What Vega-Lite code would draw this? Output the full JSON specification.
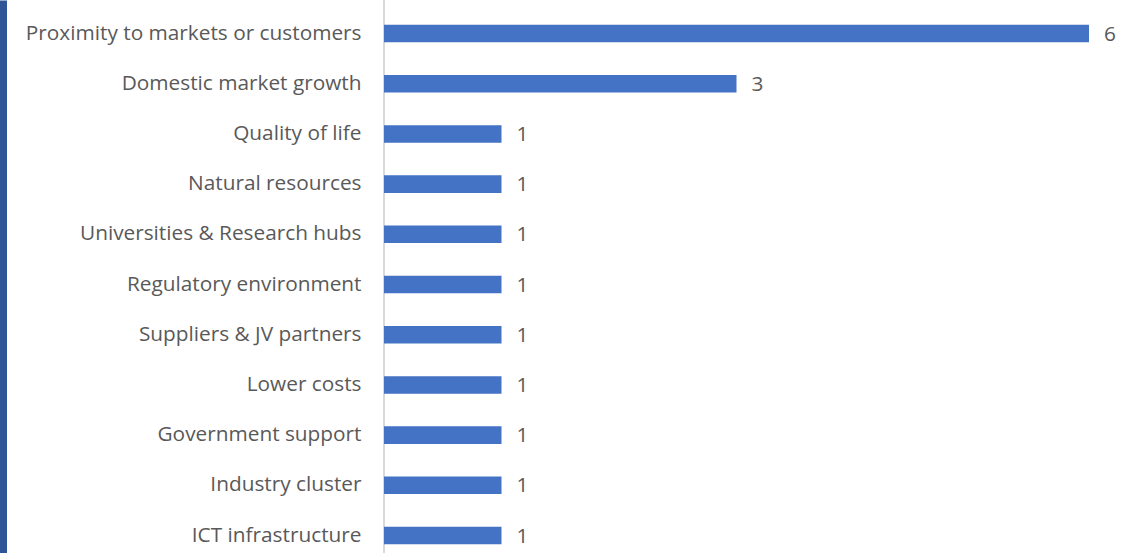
{
  "$schema": "https://vega.github.io/schema/vega-lite/v6.json",
  "width": 705,
  "height": 553,
  "autosize": {"type": "none"},
  "padding": {"left": 384, "top": 0, "right": 54, "bottom": 0},
  "background": "white",
  "config": {"view": {"stroke": null}},
  "data": {"values": [
    {"factor": "Proximity to markets or customers", "count": 6},
    {"factor": "Domestic market growth", "count": 3},
    {"factor": "Quality of life", "count": 1},
    {"factor": "Natural resources", "count": 1},
    {"factor": "Universities & Research hubs", "count": 1},
    {"factor": "Regulatory environment", "count": 1},
    {"factor": "Suppliers & JV partners", "count": 1},
    {"factor": "Lower costs", "count": 1},
    {"factor": "Government support", "count": 1},
    {"factor": "Industry cluster", "count": 1},
    {"factor": "ICT infrastructure", "count": 1}
  ]},
  "encoding": {
    "y": {"field": "factor", "type": "nominal", "sort": null,
      "scale": {"paddingInner": 0.65, "paddingOuter": 0.333, "align": 0.74},
      "axis": {"title": null, "ticks": false, "domain": true, "domainColor": "#2F5597", "domainWidth": 7, "offset": 381,
        "labelPadding": -358, "labelAlign": "right", "labelFont": "Open Sans", "labelFontSize": 20.8, "labelColor": "#595959", "labelLimit": 400}},
    "x": {"field": "count", "type": "quantitative", "scale": {"domain": [0, 6], "nice": false}, "axis": null}
  },
  "layer": [
    {"mark": {"type": "rule", "color": "#D9D9D9", "strokeWidth": 2}, "encoding": {"x": {"datum": 0}, "y": null}},
    {"mark": {"type": "bar", "color": "#4472C4"}},
    {"mark": {"type": "text", "align": "left", "baseline": "middle", "dx": 15, "dy": 1, "font": "Open Sans", "fontSize": 20.8, "color": "#595959"},
      "encoding": {"text": {"field": "count", "type": "quantitative"}}}
  ]
}
